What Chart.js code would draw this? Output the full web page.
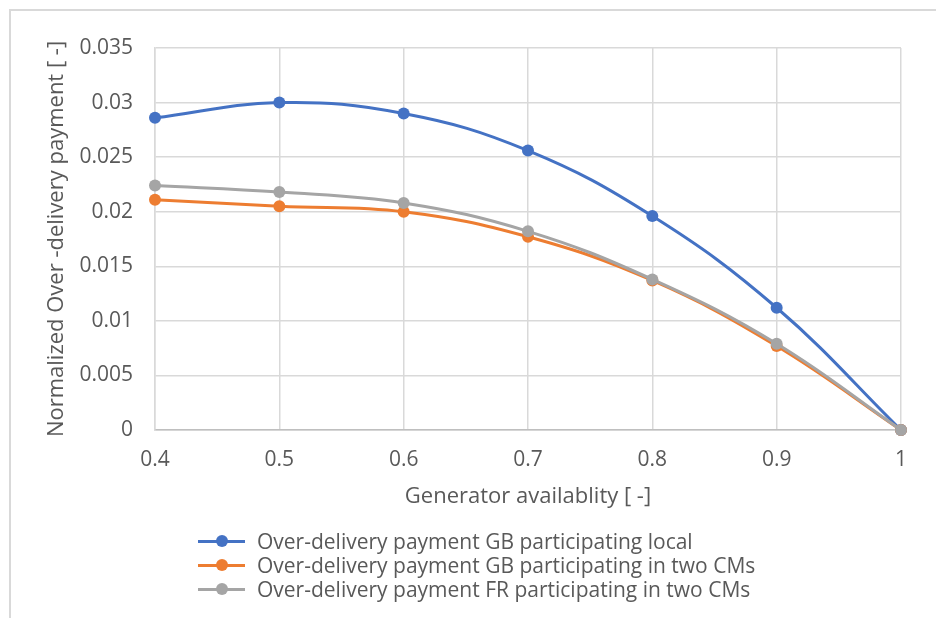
<!DOCTYPE html>
<html>
<head>
<meta charset="utf-8">
<script src="https://cdn.jsdelivr.net/npm/chart.js@4.4.1/dist/chart.umd.min.js"></script>
<style>
  html, body { margin:0; padding:0; background:#fff; overflow:hidden; }
  #wrap { position:relative; width:936px; height:618px; overflow:hidden; }
  #frame { position:absolute; left:9px; top:9px; width:1100px; height:800px; border:2px solid #d9d9d9; box-sizing:border-box; }
  canvas { position:absolute; left:0; top:0; }
  #legend { position:absolute; left:198px; top:529px; font-family: "Open Sans", sans-serif; font-size:21px; color:#595959; }
  .row { height:24px; display:flex; align-items:center; white-space:nowrap; }
  .sw { position:relative; width:47px; height:24px; margin-right:12px; }
  .sw .ln { position:absolute; left:0; right:0; top:10.5px; height:3px; }
  .sw .dt { position:absolute; left:17.5px; top:6px; width:12px; height:12px; border-radius:50%; }
</style>
</head>
<body>
<div id="wrap">
  <div id="frame"></div>
  <canvas id="c" width="936" height="618"></canvas>
  <div id="legend"></div>
</div>
<script>
const availability = [0.4, 0.5, 0.6, 0.7, 0.8, 0.9, 1];
const gbLocal = [0.0286, 0.0300, 0.0290, 0.0256, 0.0196, 0.0112, 0];
const gbTwoCMs = [0.0211, 0.0205, 0.0200, 0.0177, 0.0137, 0.0077, 0];
const frTwoCMs = [0.0224, 0.0218, 0.0208, 0.0182, 0.0138, 0.0079, 0];
const seriesLabels = [
  'Over-delivery payment GB participating local',
  'Over-delivery payment GB participating in two CMs',
  'Over-delivery payment FR participating in two CMs'
];
const seriesColors = ['#4472C4', '#ED7D31', '#A5A5A5'];
const yTicks = [0, 0.005, 0.01, 0.015, 0.02, 0.025, 0.03, 0.035];

const FONT = '"Open Sans", sans-serif';
const TXT = '#595959';

function mk(i, vals) {
  return {
    label: seriesLabels[i],
    data: availability.map((x, k) => ({x: x, y: vals[k]})),
    borderColor: seriesColors[i],
    backgroundColor: seriesColors[i],
    borderWidth: 3,
    pointRadius: 6,
    pointHoverRadius: 6,
    pointBorderWidth: 0,
    tension: 0.4,
    cubicInterpolationMode: 'default',
    fill: false,
    clip: false
  };
}
const datasets = [mk(2, frTwoCMs), mk(1, gbTwoCMs), mk(0, gbLocal)];

new Chart(document.getElementById('c'), {
  type: 'line',
  data: { datasets: datasets },
  options: {
    responsive: false,
    animation: false,
    layout: { padding: { left: 10, top: 48, right: 35, bottom: 103 } },
    plugins: { legend: { display: false }, tooltip: { enabled: false } },
    scales: {
      x: {
        type: 'linear', min: 0.4, max: 1,
        afterFit: s => { s.height = 85; },
        afterBuildTicks: s => { s.ticks = availability.map(v => ({value: v})); },
        ticks: { color: TXT, font: { family: FONT, size: 21 }, padding: 17, callback: v => String(+v.toFixed(1)) },
        grid: { color: '#d9d9d9', lineWidth: 1.5, drawTicks: false },
        border: { color: '#bfbfbf', width: 1.5 },
        title: { display: true, text: 'Generator availablity [ -]', color: TXT, font: { family: FONT, size: 22 }, padding: { top: 0, bottom: 5 } }
      },
      y: {
        min: 0, max: 0.035,
        afterFit: s => { s.width = 145; },
        afterBuildTicks: s => { s.ticks = yTicks.map(v => ({value: v})); },
        ticks: { color: TXT, font: { family: FONT, size: 21 }, padding: 22, callback: v => String(+v.toFixed(3)) },
        grid: { color: '#d9d9d9', lineWidth: 1.5, drawTicks: false },
        border: { color: '#d9d9d9', width: 1.5 },
        title: { display: true, text: 'Normalized Over -delivery payment [ -]', color: TXT, font: { family: FONT, size: 22 }, padding: { top: 34, bottom: 0 } }
      }
    }
  }
});

const lg = document.getElementById('legend');
seriesLabels.forEach((t, i) => {
  const r = document.createElement('div'); r.className = 'row';
  const sw = document.createElement('div'); sw.className = 'sw';
  const ln = document.createElement('div'); ln.className = 'ln'; ln.style.background = seriesColors[i];
  const dt = document.createElement('div'); dt.className = 'dt'; dt.style.background = seriesColors[i];
  sw.appendChild(ln); sw.appendChild(dt);
  const tx = document.createElement('span'); tx.textContent = t;
  r.appendChild(sw); r.appendChild(tx); lg.appendChild(r);
});
</script>
</body>
</html>
